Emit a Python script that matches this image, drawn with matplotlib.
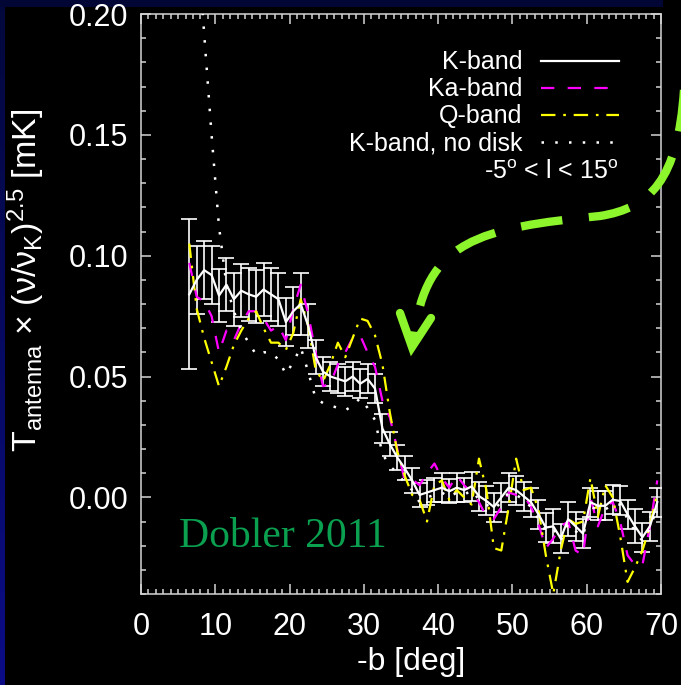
#!/usr/bin/env python3
import numpy as np
import matplotlib
matplotlib.use("Agg")
import matplotlib.pyplot as plt
from matplotlib.ticker import MultipleLocator
from matplotlib.path import Path
from matplotlib.patches import PathPatch, Rectangle
from matplotlib.lines import Line2D


# latitude bins (-b, deg)
b_deg = np.arange(6.5, 70.0, 1.0)

k_band = [
    0.084, 0.090, 0.094, 0.092, 0.0835, 0.088, 0.082, 0.0855, 0.084, 0.083,
    0.086, 0.084, 0.082, 0.0725, 0.077, 0.080, 0.071, 0.058, 0.052, 0.050,
    0.049, 0.048, 0.050, 0.047, 0.049, 0.045, 0.0285, 0.022, 0.0165, 0.012,
    0.007, 0.001, 0.002, 0.003, 0.004, 0.0025, 0.004, 0.003, 0.0045, 0.0005,
    -0.0015, -0.004, 0.000, 0.004, 0.003, 0.0005, -0.002, -0.007, -0.0125, -0.012,
    -0.017, -0.009, -0.012, -0.015, -0.002, -0.0035, -0.0035, -0.001, -0.0015, -0.007,
    -0.012, -0.0165, -0.012, -0.002,
]

k_err = [
    0.031, 0.014, 0.012, 0.012, 0.011, 0.011, 0.011, 0.011, 0.011, 0.011,
    0.011, 0.011, 0.011, 0.010, 0.010, 0.013, 0.009, 0.007, 0.006, 0.006,
    0.006, 0.006, 0.006, 0.006, 0.006, 0.006, 0.006, 0.005, 0.005, 0.005,
    0.005, 0.005, 0.005, 0.005, 0.006, 0.005, 0.006, 0.005, 0.006, 0.006,
    0.006, 0.006, 0.006, 0.006, 0.006, 0.006, 0.006, 0.006, 0.006, 0.007,
    0.006, 0.007, 0.006, 0.006, 0.006, 0.006, 0.006, 0.006, 0.006, 0.006,
    0.007, 0.006, 0.006, 0.006,
]

ka_band = [
    0.097, 0.083, 0.081, 0.075, 0.060, 0.069, 0.065, 0.072, 0.077, 0.077,
    0.074, 0.069, 0.071, 0.065, 0.078, 0.088, 0.076, 0.060, 0.046, 0.047,
    0.055, 0.060, 0.066, 0.067, 0.060, 0.054, 0.040, 0.033, 0.020, 0.007,
    0.0075, 0.005, 0.010, 0.014, 0.008, 0.004, 0.009, 0.005, 0.002, -0.002,
    -0.008, -0.009, -0.004, 0.002, 0.001, 0.001, -0.004, -0.011, -0.021, -0.017,
    -0.012, -0.010, -0.022, -0.024, 0.000, -0.012, -0.004, -0.002, -0.010, -0.024,
    -0.028, -0.028, -0.012, 0.007,
]

q_band = [
    0.105, 0.078, 0.066, 0.056, 0.046, 0.054, 0.063, 0.069, 0.074, 0.077,
    0.070, 0.064, 0.064, 0.061, 0.068, 0.082, 0.071, 0.053, 0.048, 0.055,
    0.064, 0.058, 0.066, 0.074, 0.073, 0.067, 0.055, 0.035, 0.019, 0.009,
    0.001, -0.001, -0.010, 0.005, 0.007, -0.001, 0.003, 0.000, -0.003, 0.016,
    0.003, -0.021, -0.022, -0.004, 0.016, 0.003, 0.004, -0.005, -0.024, -0.040,
    -0.022, -0.009, -0.011, -0.010, 0.008, -0.008, 0.005, 0.000, -0.016, -0.035,
    -0.029, -0.022, -0.012, 0.002,
]

k_no_disk = [
    0.280, 0.235, 0.192, 0.150, 0.112, 0.088, 0.077, 0.069, 0.064, 0.059,
    0.060, 0.060, 0.057, 0.051, 0.056, 0.062, 0.052, 0.041, 0.039, 0.038,
    0.037, 0.036, 0.038, 0.041, 0.037, 0.032, 0.018, 0.013, 0.010, 0.006,
    0.003, -0.002, 0.000, 0.001, 0.002, 0.000, 0.002, 0.001, 0.003, -0.001,
    -0.003, -0.005, -0.002, 0.002, 0.001, -0.001, -0.004, -0.009, -0.014, -0.013,
    -0.018, -0.011, -0.014, -0.016, -0.004, -0.005, -0.005, -0.003, -0.003, -0.009,
    -0.014, -0.018, -0.013, -0.004,
]

band_labels = ["K-band", "Ka-band", "Q-band", "K-band, no disk"]

W, H = 681, 685
plt.rcParams["font.family"] = ["Liberation Sans", "DejaVu Sans"]
plt.rcParams["mathtext.fontset"] = "custom"
plt.rcParams["mathtext.rm"] = "Liberation Sans"
plt.rcParams["mathtext.it"] = "Liberation Sans:italic"

fig = plt.figure(figsize=(W / 100, H / 100), dpi=100, facecolor="black")

# navy frame along the top and left edges
bg = fig.add_axes([0, 0, 1, 1], zorder=-10)
bg.set_xlim(0, W)
bg.set_ylim(H, 0)
bg.axis("off")
bg.add_patch(Rectangle((0, 0), 663, 7, color="#020634", lw=0))
grad = np.linspace(0, 1, 256).reshape(-1, 1)
bg.imshow(grad, extent=(0, 5, H, 0), aspect="auto",
          cmap=matplotlib.colors.LinearSegmentedColormap.from_list(
              "edge", ["#03083c", "#0c0c86"]))

ax = fig.add_axes([141 / W, 1 - 594 / H, 520 / W, 580 / H])
ax.set_facecolor("black")

grey = "#d4d4d4"
ax.errorbar(b_deg, k_band, yerr=k_err, fmt="none", ecolor="white",
            elinewidth=1.2, capsize=5.5, capthick=1.2, zorder=3)
l_ka, = ax.plot(b_deg, ka_band, color="#ff00ff", lw=1.6,
                linestyle=(0, (6, 6)), zorder=4)
l_q, = ax.plot(b_deg, q_band, color="#ffff00", lw=1.6,
               linestyle=(0, (6.5, 3.5, 1.2, 3.5)), zorder=4)
l_nd, = ax.plot(b_deg, k_no_disk, color="white", lw=1.8,
                linestyle=(0, (1, 4.5)), zorder=4)
l_k, = ax.plot(b_deg, k_band, color="white", lw=1.6, zorder=5)

ax.set_xlim(0, 70)
ax.set_ylim(-0.04, 0.20)
ax.xaxis.set_major_locator(MultipleLocator(10))
ax.xaxis.set_minor_locator(MultipleLocator(1))
ax.yaxis.set_major_locator(MultipleLocator(0.05))
ax.yaxis.set_minor_locator(MultipleLocator(0.01))
ax.yaxis.set_major_formatter(matplotlib.ticker.FormatStrFormatter("%.2f"))
ax.tick_params(which="both", direction="in", top=True, right=True,
               color=grey, width=1.1, labelcolor="white", labelsize=22)
ax.tick_params(which="major", length=7.5)
ax.tick_params(which="minor", length=3.5)
ax.tick_params(axis="x", pad=13)
ax.tick_params(axis="y", pad=9)
for sp in ax.spines.values():
    sp.set_color(grey)
    sp.set_linewidth(1.1)

ax.set_xlabel("-b [deg]", color="white", fontsize=23)
ax.xaxis.set_label_coords(0.52, -0.092)
ax.set_ylabel(r"T$_{\rm antenna}$ $\times$ (ν/ν$_{\rm K}$)$^{2.5}$ [mK]",
              color="white", fontsize=24.5)
ax.yaxis.set_label_coords(-0.18, 0.54)

leg = ax.legend([l_k, l_ka, l_q, l_nd], band_labels, loc="upper right",
                bbox_to_anchor=(0.962, 0.976), markerfirst=False,
                frameon=False, fontsize=18, handlelength=3.1,
                handletextpad=0.75, labelspacing=0.12, labelcolor="white")
for t in leg.get_texts():
    t.set_ha("right")

ax.text(0.918, 0.727, r"-5$^{\rm o}$ < l < 15$^{\rm o}$", transform=ax.transAxes,
        ha="right", va="center", color="white", fontsize=18)

ax.text(179, H - 547, "Dobler 2011", transform=None, color="#0aa050",
        fontsize=30, family="Liberation Serif", va="baseline")


# green dashed arrow pointing at the step near -b ~ 35
def px(x, y):
    return (x / W, 1 - y / H)


verts = [px(684, 90), px(678, 180), px(650, 208), px(600, 216),
         px(480, 228), px(425, 240), px(414, 338)]
codes = [Path.MOVETO] + [Path.CURVE4] * 6
arrow = PathPatch(Path(verts, codes), transform=fig.transFigure,
                  facecolor="none", edgecolor="#8cf52c", lw=6,
                  linestyle=(0, (5, 3.2)), capstyle="butt", zorder=20)
fig.add_artist(arrow)
head = Line2D([400 / W, 412 / W, 431 / W],
              [1 - 313 / H, 1 - 347 / H, 1 - 318 / H],
              transform=fig.transFigure, color="#8cf52c", lw=6,
              solid_joinstyle="miter", solid_capstyle="round", zorder=20)
fig.add_artist(head)

fig.savefig("out.png", dpi=100, facecolor=fig.get_facecolor())
plt.close(fig)
